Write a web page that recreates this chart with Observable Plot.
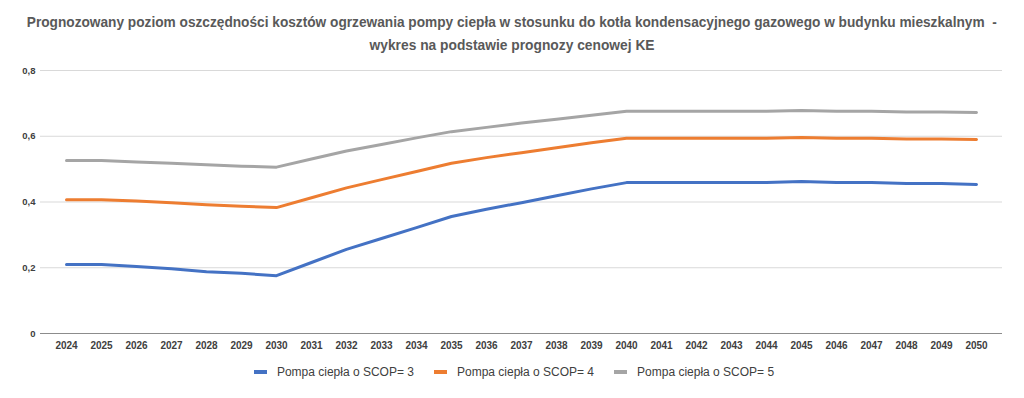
<!DOCTYPE html>
<html>
<head>
<meta charset="utf-8">
<script src="https://cdn.jsdelivr.net/npm/d3@7"></script>
<script src="https://cdn.jsdelivr.net/npm/@observablehq/plot@0.6"></script>
<style>
  body { margin: 0; background: #fff; width: 1024px; height: 398px; overflow: hidden; }
  #title { font-family: "Liberation Sans", sans-serif; font-weight: bold; font-size: 15px;
           color: #595959; line-height: 23px; padding-top: 10px; height: 48px; white-space: nowrap; }
  .tl { display: flex; justify-content: center; width: 1024px; }
  .tl span { flex-shrink: 0; display: inline-block; transform-origin: center; }
  #legend { display: flex; justify-content: center; align-items: center; gap: 20px; margin-top: 7px; padding-left: 4px;
            font-family: "Liberation Sans", sans-serif; font-size: 12px; color: #404040; }
  .item { display: flex; align-items: center; gap: 10px; }
  .sw { width: 13px; height: 4px; display: inline-block; }
</style>
</head>
<body>
<div id="title">
  <div class="tl"><span id="t1">Prognozowany poziom oszczędności kosztów ogrzewania pompy ciepła w stosunku do kotła kondensacyjnego gazowego w budynku mieszkalnym &nbsp;-</span></div>
  <div class="tl"><span id="t2">wykres na podstawie prognozy cenowej KE</span></div>
</div>
<div id="chart"></div>
<div id="legend"></div>
<script>
const years = ["2024","2025","2026","2027","2028","2029","2030","2031","2032","2033","2034","2035","2036","2037","2038","2039","2040","2041","2042","2043","2044","2045","2046","2047","2048","2049","2050"];
const scop3 = [0.210,0.210,0.204,0.197,0.188,0.183,0.176,0.216,0.256,0.289,0.322,0.356,0.378,0.398,0.419,0.440,0.459,0.459,0.459,0.459,0.459,0.462,0.459,0.459,0.456,0.456,0.453];
const scop4 = [0.407,0.407,0.403,0.398,0.392,0.387,0.383,0.413,0.443,0.468,0.493,0.518,0.535,0.550,0.565,0.580,0.594,0.594,0.594,0.594,0.594,0.596,0.594,0.594,0.592,0.592,0.590];
const scop5 = [0.526,0.526,0.522,0.518,0.513,0.509,0.506,0.531,0.555,0.575,0.595,0.614,0.627,0.640,0.652,0.664,0.676,0.676,0.676,0.676,0.676,0.678,0.676,0.676,0.674,0.674,0.672];
const seriesNames = ["Pompa ciepła o SCOP= 3","Pompa ciepła o SCOP= 4","Pompa ciepła o SCOP= 5"];
const seriesColors = ["#4472C4","#ED7D31","#A5A5A5"];
const yTicks = [0, 0.2, 0.4, 0.6, 0.8];

// Fit title lines to the reference's condensed widths
[["t1", 970], ["t2", 285]].forEach(([id, w]) => {
  const el = document.getElementById(id);
  const cur = el.getBoundingClientRect().width;
  if (cur > 0) el.style.transform = `scaleX(${w / cur})`;
});

const seriesValues = [scop3, scop4, scop5];
const data = [];
seriesValues.forEach((vals, si) => vals.forEach((v, i) => data.push({year: years[i], value: v, series: seriesNames[si]})));

const fmt = d => d === 0 ? "0" : String(d).replace(".", ",");

const chart = Plot.plot({
  width: 1024,
  height: 300,
  marginTop: 12,
  marginBottom: 25,
  marginLeft: 40,
  marginRight: 22,
  style: {fontFamily: "'Liberation Sans', sans-serif", fontSize: "10px", fontWeight: "bold", color: "#404040", background: "#fff"},
  x: {type: "point", domain: years, padding: 0.5, label: null},
  y: {domain: [0, 0.8], label: null},
  color: {domain: seriesNames, range: seriesColors},
  marks: [
    Plot.ruleY(yTicks.filter(d => d > 0), {stroke: "#d9d9d9", strokeWidth: 1}),
    Plot.ruleY([0], {stroke: "#8c8c8c", strokeWidth: 1}),
    Plot.axisY(yTicks, {tickSize: 0, tickPadding: 5, tickFormat: fmt, fontSize: 9.5}),
    Plot.axisX({tickSize: 0, tickPadding: 8, fontSize: 10}),
    Plot.line(data, {x: "year", y: "value", z: "series", stroke: "series", strokeWidth: 3, curve: "linear"})
  ]
});
document.getElementById("chart").appendChild(chart);

const legend = document.getElementById("legend");
seriesNames.forEach((n, i) => {
  const it = document.createElement("div");
  it.className = "item";
  const sw = document.createElement("span");
  sw.className = "sw";
  sw.style.background = seriesColors[i];
  const t = document.createElement("span");
  t.textContent = n;
  it.appendChild(sw); it.appendChild(t);
  legend.appendChild(it);
});
</script>
</body>
</html>
